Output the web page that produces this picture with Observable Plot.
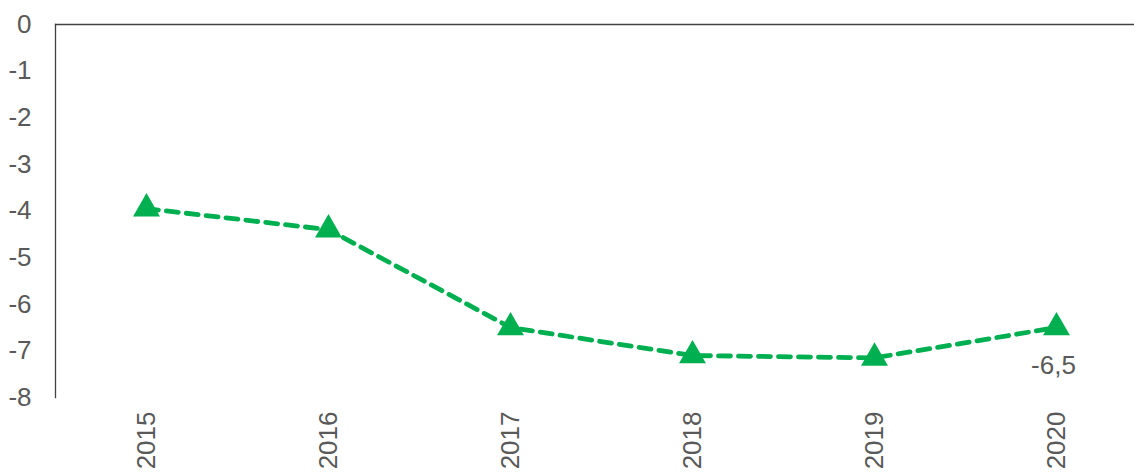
<!DOCTYPE html>
<html>
<head>
<meta charset="utf-8">
<script src="https://cdn.jsdelivr.net/npm/d3@7"></script>
<script src="https://cdn.jsdelivr.net/npm/@observablehq/plot@0.6"></script>
<style>
  html, body { margin: 0; padding: 0; background: #fff; }
  svg { display: block; }
</style>
</head>
<body>
<div id="chart"></div>
<script>
const years = ["2015", "2016", "2017", "2018", "2019", "2020"];
const values = [-3.95, -4.4, -6.5, -7.1, -7.15, -6.5];
const yTicks = [0, -1, -2, -3, -4, -5, -6, -7, -8];
const labelYear = "2020";
const labelText = "-6,5";

const data = years.map((y, i) => ({year: y, value: values[i]}));
const labelData = data.filter(d => d.year === labelYear);

const green = "#00B050";
const textColor = "#595959";

const chart = Plot.plot({
  width: 1134,
  height: 473,
  marginTop: 24,
  marginBottom: 76,
  marginLeft: 55,
  marginRight: 0,
  style: {fontFamily: "Liberation Sans, Arial, sans-serif", fontSize: "26px", background: "#fff"},
  x: {type: "point", domain: years, range: [146, 1056], padding: 0, label: null},
  y: {domain: [-8, 0], range: [397, 24], label: null},
  marks: [
    Plot.frame({anchor: "left", stroke: "#404040", strokeWidth: 1.3}),
    Plot.frame({anchor: "top", stroke: "#404040", strokeWidth: 1.3}),
    Plot.axisY({ticks: yTicks, tickSize: 0, tickPadding: 24, fill: textColor, fontSize: 26, label: null, tickFormat: d => String(d)}),
    Plot.axisX({tickSize: 0, tickPadding: 14, tickRotate: -90, fill: textColor, fontSize: 26, label: null}),
    Plot.line(data, {x: "year", y: "value", stroke: green, strokeWidth: 4.8, strokeDasharray: "12 8", strokeLinecap: "round"}),
    Plot.dot(data, {x: "year", y: "value", symbol: "triangle", r: 10, fill: green, stroke: "none"}),
    Plot.text(labelData, {x: "year", y: "value", text: () => labelText, dy: 38, dx: -3, fill: textColor, fontSize: 26})
  ]
});
document.getElementById("chart").appendChild(chart);
</script>
</body>
</html>
